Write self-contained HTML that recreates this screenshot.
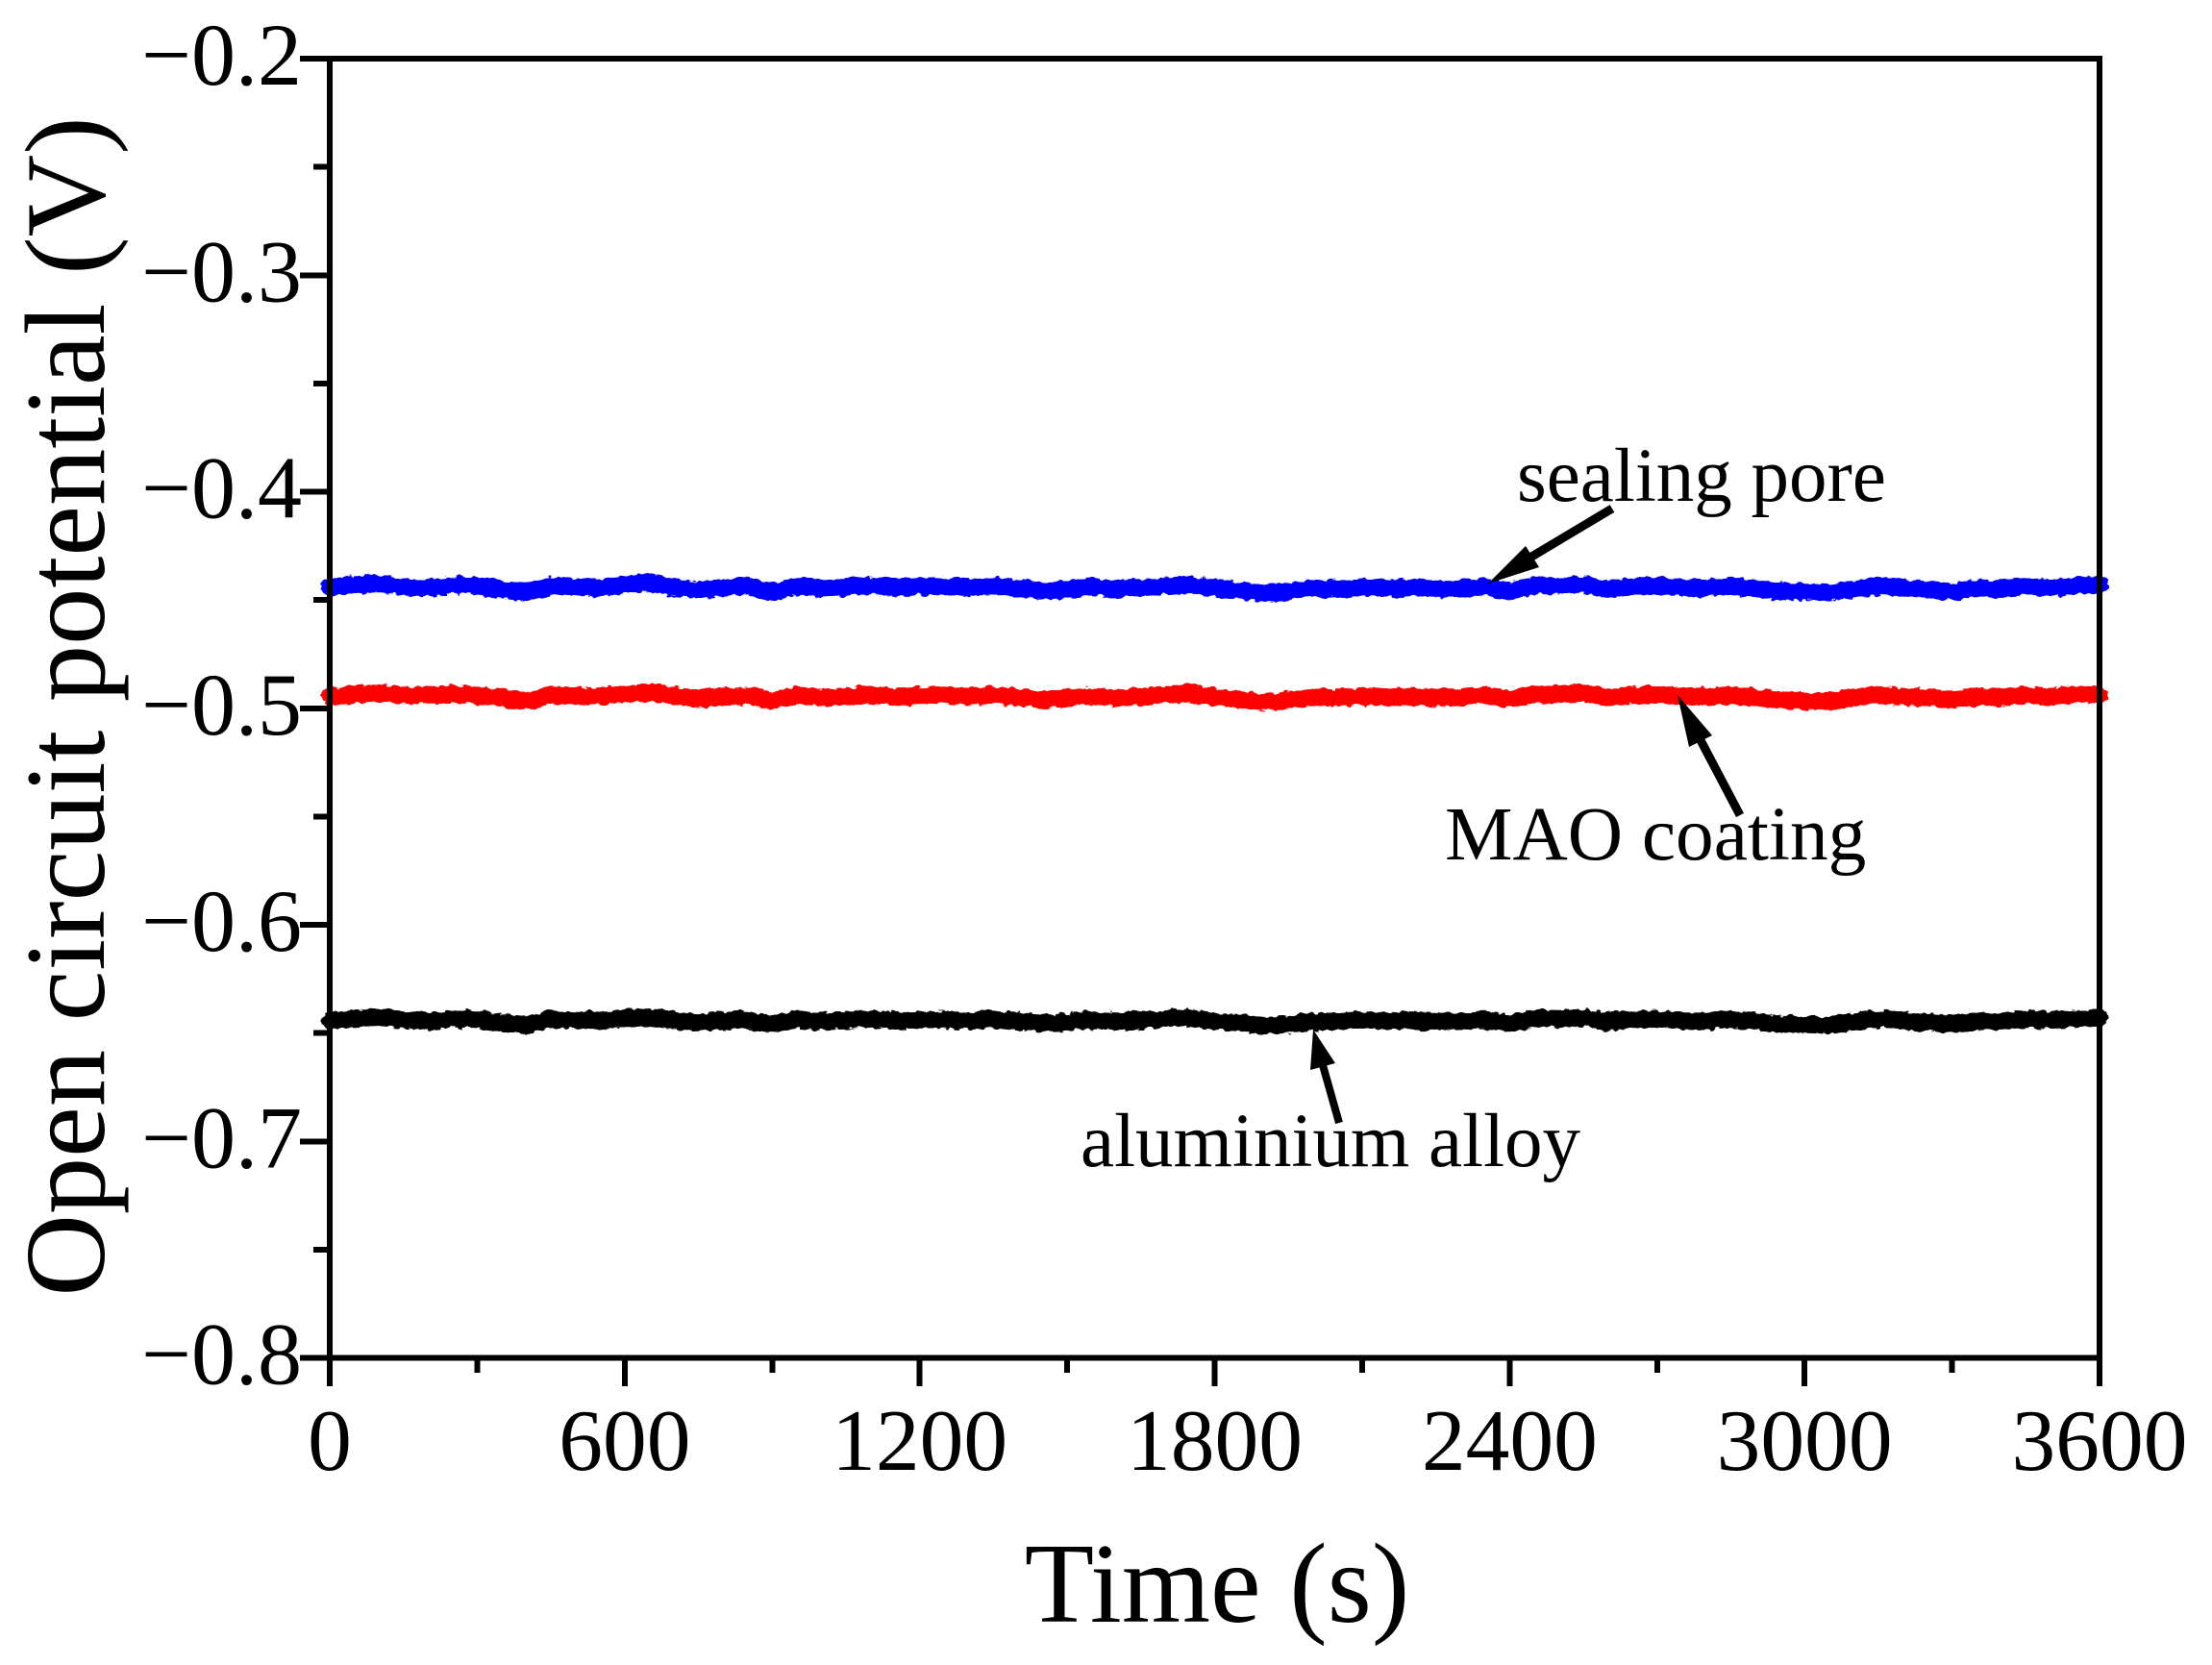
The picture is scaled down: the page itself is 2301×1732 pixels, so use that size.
<!DOCTYPE html>
<html>
<head>
<meta charset="utf-8">
<title>Open circuit potential</title>
<style>
html,body{margin:0;padding:0;background:#fff;width:2301px;height:1732px;overflow:hidden}
svg{display:block}
text{font-family:"Liberation Serif","Times New Roman",serif;fill:#000}
</style>
</head>
<body>
<svg id="chart" xmlns="http://www.w3.org/2000/svg" width="2301" height="1732" viewBox="0 0 2301 1732">
  <defs>
    <filter id="rough-edge" filterUnits="userSpaceOnUse" x="0" y="0" width="2301" height="1732" color-interpolation-filters="sRGB">
      <feTurbulence type="fractalNoise" baseFrequency="0.12 0.2" numOctaves="2" seed="7" result="noise"/>
      <feDisplacementMap in="SourceGraphic" in2="noise" scale="7" xChannelSelector="R" yChannelSelector="G"/>
    </filter>
  </defs>
  <rect x="0" y="0" width="2301" height="1732" fill="#fff"/>
  <g id="series-layer" filter="url(#rough-edge)"></g>
  <g id="axis-layer" shape-rendering="crispEdges"></g>
  <g id="label-layer"></g>
  <text x="1266" y="1687" font-size="118.5" text-anchor="middle">Time (s)</text>
  <text x="108" y="735" font-size="118.5" text-anchor="middle" transform="rotate(-90 108 735)">Open circuit potential (V)</text>
  <g>
    <text x="1578" y="521" font-size="79">sealing pore</text>
    <line x1="1677" y1="529" x2="1590" y2="581" stroke="#000" stroke-width="9"/>
    <polygon points="1548,607 1587,568 1601,590" fill="#000"/>
  </g>
  <g>
    <text x="1503" y="894" font-size="79.3">MAO coating</text>
    <line x1="1810" y1="848" x2="1769" y2="770" stroke="#000" stroke-width="9"/>
    <polygon points="1745,723 1781,765 1757,777" fill="#000"/>
  </g>
  <g>
    <text x="1124" y="1213" font-size="79">aluminium alloy</text>
    <line x1="1393" y1="1168" x2="1376" y2="1108" stroke="#000" stroke-width="8"/>
    <polygon points="1366,1071 1389,1106 1363,1113" fill="#000"/>
  </g>
</svg>
<script>
const xTicks = [0, 600, 1200, 1800, 2400, 3000, 3600];
const xTickLabels = ["0", "600", "1200", "1800", "2400", "3000", "3600"];
const xMinorTicks = [300, 900, 1500, 2100, 2700, 3300];
const yTicks = [-0.2, -0.3, -0.4, -0.5, -0.6, -0.7, -0.8];
const yTickLabels = ["\u22120.2", "\u22120.3", "\u22120.4", "\u22120.5", "\u22120.6", "\u22120.7", "\u22120.8"];
const yMinorTicks = [-0.25, -0.35, -0.45, -0.55, -0.65, -0.75];
const times = [0,50,100,150,200,250,300,350,400,450,500,550,600,650,700,750,800,850,900,950,1000,1050,1100,1150,1200,1250,1300,1350,1400,1450,1500,1550,1600,1650,1700,1750,1800,1850,1900,1950,2000,2050,2100,2150,2200,2250,2300,2350,2400,2450,2500,2550,2600,2650,2700,2750,2800,2850,2900,2950,3000,3050,3100,3150,3200,3250,3300,3350,3400,3450,3500,3550,3600];
const sealingPore = [-0.4442,-0.4430,-0.4424,-0.4440,-0.4445,-0.4432,-0.4434,-0.4455,-0.4464,-0.4434,-0.4438,-0.4446,-0.4428,-0.4424,-0.4440,-0.4456,-0.4442,-0.4436,-0.4466,-0.4436,-0.4446,-0.4440,-0.4432,-0.4444,-0.4438,-0.4436,-0.4442,-0.4434,-0.4446,-0.4458,-0.4452,-0.4438,-0.4448,-0.4442,-0.4436,-0.4428,-0.4446,-0.4456,-0.4468,-0.4462,-0.4446,-0.4448,-0.4440,-0.4446,-0.4442,-0.4450,-0.4448,-0.4438,-0.4460,-0.4432,-0.4436,-0.4430,-0.4452,-0.4438,-0.4434,-0.4442,-0.4444,-0.4434,-0.4448,-0.4460,-0.4462,-0.4466,-0.4450,-0.4436,-0.4446,-0.4452,-0.4462,-0.4446,-0.4450,-0.4436,-0.4442,-0.4434,-0.4430];
const maoCoating = [-0.4945,-0.4938,-0.4932,-0.4940,-0.4938,-0.4936,-0.4942,-0.4950,-0.4968,-0.4938,-0.4942,-0.4944,-0.4934,-0.4930,-0.4942,-0.4956,-0.4946,-0.4942,-0.4966,-0.4940,-0.4950,-0.4944,-0.4936,-0.4948,-0.4942,-0.4938,-0.4946,-0.4940,-0.4950,-0.4960,-0.4954,-0.4942,-0.4952,-0.4946,-0.4938,-0.4930,-0.4948,-0.4958,-0.4972,-0.4964,-0.4950,-0.4950,-0.4944,-0.4950,-0.4946,-0.4952,-0.4950,-0.4940,-0.4956,-0.4934,-0.4938,-0.4930,-0.4950,-0.4940,-0.4936,-0.4944,-0.4946,-0.4938,-0.4950,-0.4962,-0.4966,-0.4968,-0.4952,-0.4938,-0.4948,-0.4950,-0.4960,-0.4948,-0.4950,-0.4940,-0.4946,-0.4938,-0.4934];
const aluminiumAlloy = [-0.6442,-0.6432,-0.6426,-0.6438,-0.6444,-0.6434,-0.6436,-0.6452,-0.6464,-0.6436,-0.6440,-0.6444,-0.6430,-0.6426,-0.6440,-0.6454,-0.6442,-0.6438,-0.6460,-0.6438,-0.6446,-0.6440,-0.6434,-0.6444,-0.6438,-0.6436,-0.6442,-0.6436,-0.6446,-0.6456,-0.6450,-0.6438,-0.6448,-0.6440,-0.6434,-0.6428,-0.6446,-0.6454,-0.6466,-0.6460,-0.6446,-0.6446,-0.6440,-0.6444,-0.6442,-0.6448,-0.6446,-0.6438,-0.6456,-0.6432,-0.6434,-0.6428,-0.6448,-0.6436,-0.6434,-0.6442,-0.6444,-0.6436,-0.6446,-0.6458,-0.6460,-0.6464,-0.6448,-0.6434,-0.6444,-0.6450,-0.6458,-0.6444,-0.6448,-0.6436,-0.6440,-0.6434,-0.6430];

const plotLeft = 343, plotRight = 2184, plotTop = 61, plotBottom = 1412.5;
const xMin = 0, xMax = 3600, yMax = -0.2, yMin = -0.8;
const svgNS = "http://www.w3.org/2000/svg";
function xScale(v){ return plotLeft + (v - xMin) / (xMax - xMin) * (plotRight - plotLeft); }
function yScale(v){ return plotTop + (yMax - v) / (yMax - yMin) * (plotBottom - plotTop); }
function makeLine(x1, y1, x2, y2, width){
  const l = document.createElementNS(svgNS, "line");
  l.setAttribute("x1", x1);
  l.setAttribute("y1", y1);
  l.setAttribute("x2", x2);
  l.setAttribute("y2", y2);
  l.setAttribute("stroke", "#000");
  l.setAttribute("stroke-width", width);
  return l;
}
const axisLayer = document.getElementById("axis-layer");
const labelLayer = document.getElementById("label-layer");
const seriesLayer = document.getElementById("series-layer");

function drawSeries(values, color, seriesName){
  const p = document.createElementNS(svgNS, "path");
  
  
  let d = "";
  values.forEach(function(v, i){
    d += (i ? "L" : "M") + xScale(times[i]).toFixed(1) + " " + yScale(v).toFixed(1);
  });
  p.setAttribute("d", d);
  p.setAttribute("fill", "none");
  p.setAttribute("stroke", color);
  p.setAttribute("stroke-width", "18");
  p.setAttribute("stroke-linejoin", "round");
  p.setAttribute("stroke-linecap", "round");
  seriesLayer.appendChild(p);
}
drawSeries(sealingPore, "#0000ff", "series-sealing-pore");
drawSeries(maoCoating, "#ff0000", "series-mao-coating");
drawSeries(aluminiumAlloy, "#000000", "series-aluminium-alloy");

const frame = [
  [plotLeft, plotTop - 3, plotLeft, plotBottom + 3, "axis-left"],
  [plotRight, plotTop - 3, plotRight, plotBottom + 3, "axis-right"],
  [plotLeft - 3, plotTop, plotRight + 3, plotTop, "axis-top"],
  [plotLeft - 3, plotBottom, plotRight + 3, plotBottom, "axis-bottom"]
];
frame.forEach(function(f){
  const l = makeLine(f[0], f[1], f[2], f[3], 6);
  
  
  axisLayer.appendChild(l);
});
xTicks.forEach(function(v, i){
  const x = xScale(v);
  const l = makeLine(x, plotBottom, x, 1442, 6);
  
  
  axisLayer.appendChild(l);
  const t = document.createElementNS(svgNS, "text");
  
  
  t.setAttribute("x", x);
  t.setAttribute("y", 1529);
  t.setAttribute("font-size", 91.5);
  t.setAttribute("text-anchor", "middle");
  t.textContent = xTickLabels[i];
  labelLayer.appendChild(t);
});
xMinorTicks.forEach(function(v){
  const x = xScale(v);
  const l = makeLine(x, plotBottom, x, 1428, 6);
  
  
  axisLayer.appendChild(l);
});
yTicks.forEach(function(v, i){
  const y = yScale(v);
  const l = makeLine(312, y, plotLeft, y, 6);
  
  
  axisLayer.appendChild(l);
  const t = document.createElementNS(svgNS, "text");
  
  
  t.setAttribute("x", 314);
  t.setAttribute("y", y + 27);
  t.setAttribute("font-size", 92);
  t.setAttribute("text-anchor", "end");
  t.textContent = yTickLabels[i];
  labelLayer.appendChild(t);
});
yMinorTicks.forEach(function(v){
  const y = yScale(v);
  const l = makeLine(326, y, plotLeft, y, 6);
  
  
  axisLayer.appendChild(l);
});
</script>
</body>
</html>
